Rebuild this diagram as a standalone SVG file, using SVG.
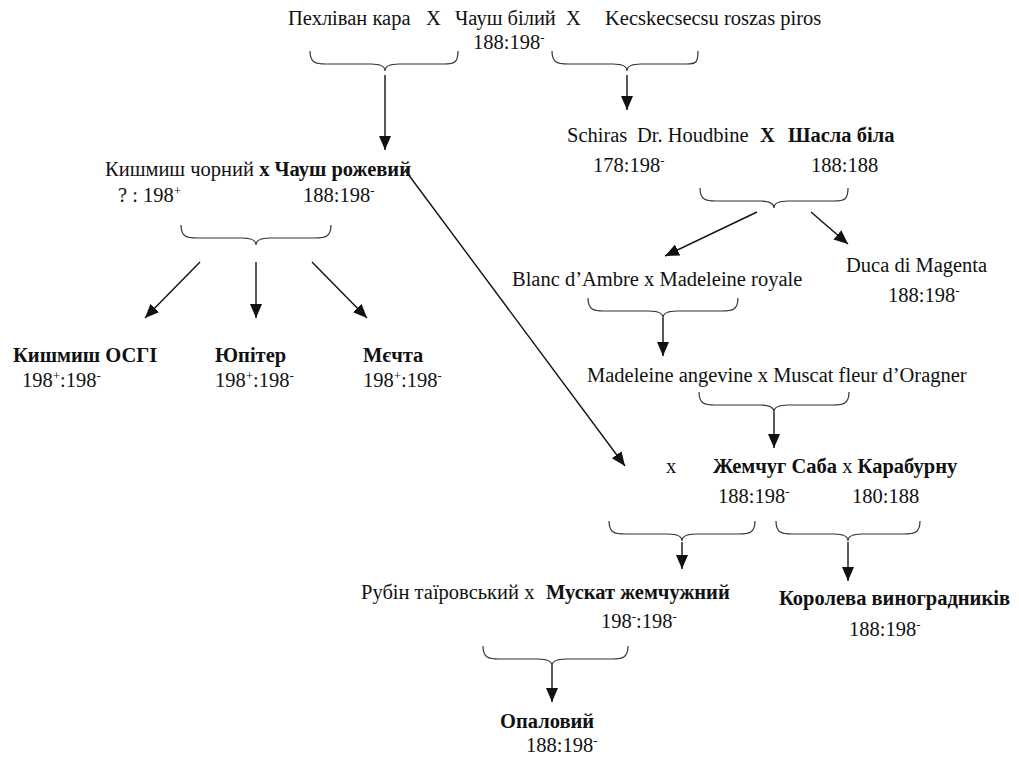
<svg xmlns="http://www.w3.org/2000/svg" width="1019" height="758" viewBox="0 0 1019 758">
<defs>
<style>
text{font-family:"Liberation Serif","Times New Roman",serif;font-size:20.5px;fill:#111}
.b{font-weight:bold}
.s{font-size:13px}
.ln{stroke:#111;stroke-width:1.4;fill:none}
.br{stroke:#333;stroke-width:1.2;fill:none}
</style>
<marker id="ah" markerUnits="userSpaceOnUse" markerWidth="14" markerHeight="14" viewBox="0 0 14 14" refX="14" refY="7" orient="auto">
<path d="M0,1 L14,7 L0,13 Z" fill="#111"/>
</marker>
</defs>
<rect width="1019" height="758" fill="#fff"/>

<g id="connectors">
<path class="br" d="M310,51 C310,63 316,64 326,64 L371,64 C381,64 385,66 385,71 C385,66 389,64 399,64 L444,64 C454,64 458,63 458,51"/>
<path class="br" d="M552,51 C552,63 558,64 568,64 L613,64 C623,64 627,66 627,71 C627,66 631,64 641,64 L686,64 C696,64 698,63 698,51"/>
<line class="ln" x1="385" y1="75" x2="385" y2="150" marker-end="url(#ah)"/>
<line class="ln" x1="627" y1="75" x2="627" y2="110" marker-end="url(#ah)"/>

<path class="br" d="M700,188 C700,200 706,201 716,201 L760,201 C770,201 774,203 774,208 C774,203 778,201 788,201 L834,201 C844,201 848,200 848,188"/>
<line class="ln" x1="757" y1="212" x2="665" y2="256" marker-end="url(#ah)"/>
<line class="ln" x1="811" y1="212" x2="848" y2="244" marker-end="url(#ah)"/>

<path class="br" d="M588,298 C588,310 594,311 604,311 L649,311 C659,311 663,313 663,318 C663,313 667,311 677,311 L722,311 C732,311 738,310 738,298"/>
<line class="ln" x1="663" y1="318" x2="663" y2="356" marker-end="url(#ah)"/>

<path class="br" d="M699,392 C699,404 705,405 715,405 L760,405 C770,405 774,407 774,412 C774,407 778,405 788,405 L833,405 C843,405 849,404 849,392"/>
<line class="ln" x1="774" y1="412" x2="774" y2="448" marker-end="url(#ah)"/>

<path class="br" d="M181,225 C181,237 187,238 197,238 L242,238 C252,238 256,240 256,245 C256,240 260,238 270,238 L315,238 C325,238 331,237 331,225"/>
<line class="ln" x1="200" y1="262" x2="145" y2="318" marker-end="url(#ah)"/>
<line class="ln" x1="256" y1="262" x2="256" y2="318" marker-end="url(#ah)"/>
<line class="ln" x1="312" y1="262" x2="367" y2="318" marker-end="url(#ah)"/>

<line class="ln" x1="405" y1="170" x2="625" y2="466" marker-end="url(#ah)"/>

<path class="br" d="M609,521 C609,533 615,534 625,534 L668,534 C678,534 682,536 682,541 C682,536 686,534 696,534 L739,534 C749,534 755,533 755,521"/>
<line class="ln" x1="682" y1="542" x2="682" y2="569" marker-end="url(#ah)"/>
<path class="br" d="M776,521 C776,533 782,534 792,534 L834,534 C844,534 848,536 848,541 C848,536 852,534 862,534 L904,534 C914,534 920,533 920,521"/>
<line class="ln" x1="848" y1="542" x2="848" y2="581" marker-end="url(#ah)"/>

<path class="br" d="M483,646 C483,658 489,659 499,659 L538,659 C548,659 552,661 552,666 C552,661 556,659 566,659 L612,659 C622,659 628,658 628,646"/>
<line class="ln" x1="552" y1="666" x2="552" y2="702" marker-end="url(#ah)"/>
</g>

<g id="n-top">
<text x="288" y="25">Пехліван кара</text>
<text x="426" y="25">X</text>
<text x="455" y="25">Чауш білий</text>
<text x="566" y="25">X</text>
<text x="605" y="25">Kecskecsecsu roszas piros</text>
<text x="473" y="49">188:198<tspan class="s" baseline-shift="super">-</tspan></text>
</g>

<g id="n-schiras">
<text x="567" y="142">Schiras</text>
<text x="637" y="142">Dr. Houdbine</text>
<text x="760" y="142" class="b">X</text>
<text x="788" y="142" class="b">Шасла біла</text>
<text x="593" y="172">178:198<tspan class="s" baseline-shift="super">-</tspan></text>
<text x="811" y="172">188:188</text>
</g>

<g id="n-kishmish-parents">
<text x="105" y="176">Кишмиш чорний <tspan class="b">х Чауш рожевий</tspan></text>
<text x="118" y="202">? : 198<tspan class="s" baseline-shift="super">+</tspan></text>
<text x="303" y="202">188:198<tspan class="s" baseline-shift="super">-</tspan></text>
</g>

<g id="n-duca">
<text x="846" y="272">Duca di Magenta</text>
<text x="888" y="302">188:198<tspan class="s" baseline-shift="super">-</tspan></text>
</g>

<g id="n-blanc">
<text x="512" y="286">Blanc d’Ambre x Madeleine royale</text>
</g>

<g id="n-madeleine">
<text x="587" y="382">Madeleine angevine x Muscat fleur d’Oragner</text>
</g>

<g id="n-osgi">
<text x="13" y="362" class="b">Кишмиш ОСГІ</text>
<text x="22" y="387">198<tspan class="s" baseline-shift="super">+</tspan>:198<tspan class="s" baseline-shift="super">-</tspan></text>
</g>
<g id="n-jupiter">
<text x="215" y="362" class="b">Юпітер</text>
<text x="215" y="387">198<tspan class="s" baseline-shift="super">+</tspan>:198<tspan class="s" baseline-shift="super">-</tspan></text>
</g>
<g id="n-mechta">
<text x="363" y="362" class="b">Мєчта</text>
<text x="363" y="387">198<tspan class="s" baseline-shift="super">+</tspan>:198<tspan class="s" baseline-shift="super">-</tspan></text>
</g>

<g id="n-zhemchug">
<text x="666" y="473">x</text>
<text x="713" y="473"><tspan class="b">Жемчуг Саба</tspan> х <tspan class="b">Карабурну</tspan></text>
<text x="718" y="503">188:198<tspan class="s" baseline-shift="super">-</tspan></text>
<text x="852" y="503">180:188</text>
</g>

<g id="n-muscat">
<text x="361" y="599">Рубін таїровський х</text>
<text x="546" y="599" class="b">Мускат жемчужний</text>
<text x="601" y="628">198<tspan class="s" baseline-shift="super">-</tspan>:198<tspan class="s" baseline-shift="super">-</tspan></text>
</g>

<g id="n-koroleva">
<text x="779" y="605" class="b">Королева виноградників</text>
<text x="849" y="636">188:198<tspan class="s" baseline-shift="super">-</tspan></text>
</g>

<g id="n-opal">
<text x="500" y="728" class="b">Опаловий</text>
<text x="526" y="752">188:198<tspan class="s" baseline-shift="super">-</tspan></text>
</g>
</svg>
